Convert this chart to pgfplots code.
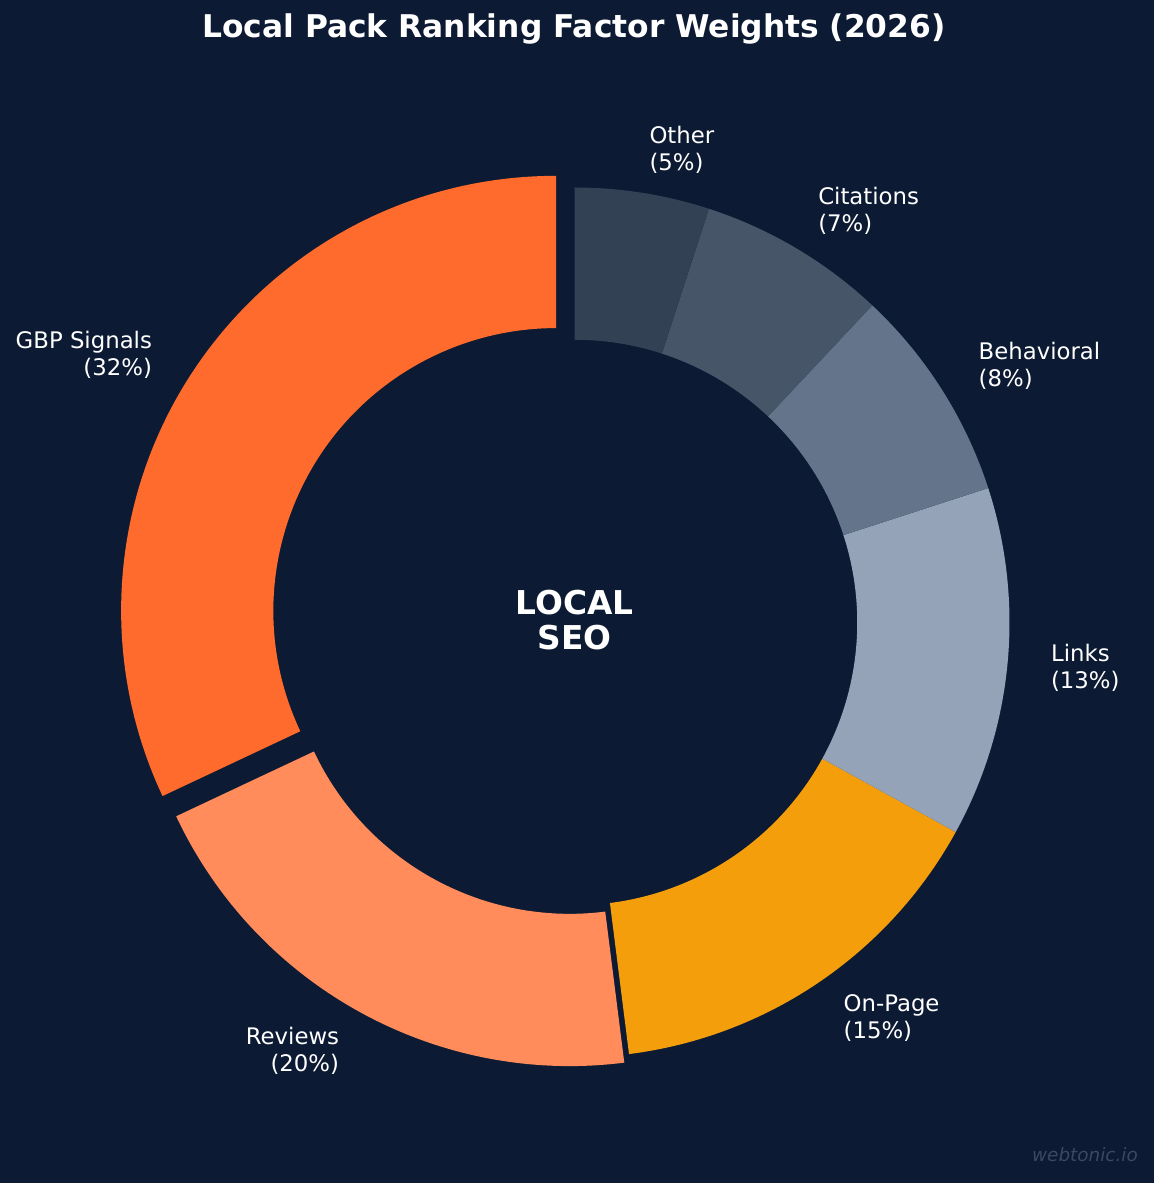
\documentclass[border=0pt]{standalone}
\usepackage{pgfplots}
\pgfplotsset{compat=1.18}
\usepackage{fontspec}
\setmainfont{DejaVu Sans}[BoldFont={DejaVu Sans Bold},ItalicFont={DejaVu Sans Oblique}]
\definecolor{bg}{HTML}{0C1B33}
\definecolor{cgbp}{HTML}{FF6B2C}
\definecolor{crev}{HTML}{FF8C5A}
\definecolor{conp}{HTML}{F59E0B}
\definecolor{clnk}{HTML}{94A3B8}
\definecolor{cbeh}{HTML}{64748B}
\definecolor{ccit}{HTML}{475569}
\definecolor{coth}{HTML}{334155}
\definecolor{cwm}{HTML}{3A4860}
\newcommand\lbl{\fontsize{22.8bp}{27bp}\selectfont}
% center (574.5,560.5), outer radius 435, inner radius 282.75
% #1 colour, #2 start angle, #3 value (%), #4 explode (bp), #5 label anchor, #6 align, #7 label
\newcommand\slice[7]{%
  \fill[#1] (axis cs:574.5,560.5) ++({#2+1.8*#3}:{#4*1bp}) ++(#2:435bp)
     arc[start angle=#2, end angle={#2+3.6*#3}, radius=435bp]
     -- ++({#2+3.6*#3+180}:152.25bp)
     arc[start angle={#2+3.6*#3}, end angle=#2, radius=282.75bp] -- cycle;
  \path (axis cs:574.5,560.5) ++({#2+1.8*#3}:{(478.5+#4)*1bp})
     node[anchor=#5, align=#6, inner sep=0pt, text=white, font=\lbl] {#7};
}
\begin{document}
\begin{tikzpicture}
\begin{axis}[scale only axis, width=1154bp, height=1183bp,
  xmin=0, xmax=1154, ymin=0, ymax=1183, hide axis, clip=false]
\fill[bg] (axis cs:0,0) rectangle (axis cs:1154,1183);
\slice{cgbp}{90}{32}{21.75}{east}{right}{GBP Signals\\(32\%)}
\slice{crev}{205.2}{20}{9.8}{east}{right}{Reviews\\(20\%)}
\slice{conp}{277.2}{15}{0}{west}{left}{On-Page\\(15\%)}
\slice{clnk}{331.2}{13}{0}{west}{left}{Links\\(13\%)}
\slice{cbeh}{378}{8}{0}{west}{left}{Behavioral\\(8\%)}
\slice{ccit}{406.8}{7}{0}{west}{left}{Citations\\(7\%)}
\slice{coth}{432}{5}{0}{west}{left}{Other\\(5\%)}
\node[align=center, inner sep=0pt, text=white, font=\fontsize{32.8bp}{35bp}\selectfont\bfseries]
  at (axis cs:574.5,562.5) {LOCAL\\SEO};
\node[anchor=base, inner sep=0pt, text=white, font=\fontsize{31.3bp}{37bp}\selectfont\bfseries]
  at (axis cs:574,1145) {Local Pack Ranking Factor Weights (2026)};
\node[anchor=base east, inner sep=0pt, text=cwm, font=\fontsize{18.4bp}{22bp}\selectfont\itshape]
  at (axis cs:1138,21) {webtonic.io};
\end{axis}
\end{tikzpicture}
\end{document}
